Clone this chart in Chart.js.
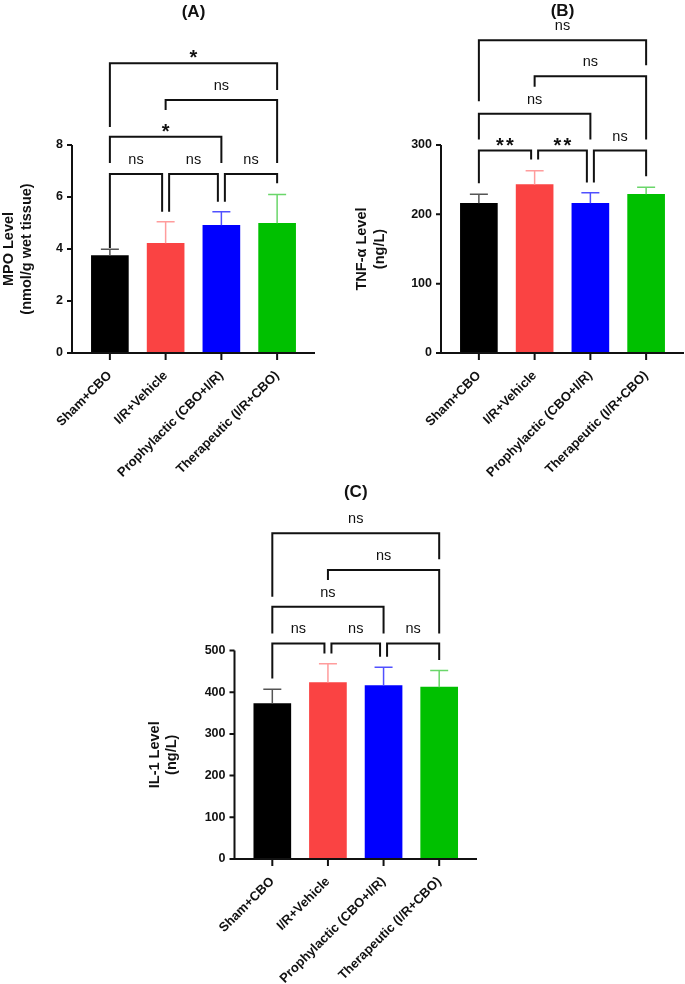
<!DOCTYPE html>
<html>
<head>
<meta charset="utf-8">
<script src="https://cdn.jsdelivr.net/npm/chart.js@4.4.1/dist/chart.umd.min.js"></script>
<style>
  html, body { margin: 0; padding: 0; background: #fff; }
  #wrap { position: relative; width: 685px; height: 984px; overflow: hidden; }
  canvas { position: absolute; }
</style>
</head>
<body>
<div id="wrap">
  <canvas id="cA" width="342" height="480" style="left:0;top:0;width:342px;height:480px"></canvas>
  <canvas id="cB" width="343" height="480" style="left:342px;top:0;width:343px;height:480px"></canvas>
  <canvas id="cC" width="685" height="504" style="left:0;top:480px;width:685px;height:504px"></canvas>
</div>
<script>
// ---- data ----
const groups = ['Sham+CBO', 'I/R+Vehicle', 'Prophylactic (CBO+I/R)', 'Therapeutic (I/R+CBO)'];

// (A) MPO, nmol/g wet tissue
const mpoMean = [3.75, 4.22, 4.91, 4.99];
const mpoSD   = [0.24, 0.83, 0.52, 1.11];
// (B) TNF-α, ng/L
const tnfMean = [216, 243, 216, 229];
const tnfSD   = [13, 20, 15, 10];
// (C) IL-1, ng/L
const il1Mean = [373, 423, 416, 412];
const il1SD   = [34, 45, 44, 40];

// comparisons and their significance labels
const pairs  = [[0, 1], [1, 2], [2, 3], [0, 2], [1, 3], [0, 3]];
const mpoSig = ['ns', 'ns', 'ns', '*', 'ns', '*'];
const tnfSig = ['**', '**', 'ns', 'ns', 'ns', 'ns'];
const il1Sig = ['ns', 'ns', 'ns', 'ns', 'ns', 'ns'];

// ---- look ----
const FONT = '"Liberation Sans", Arial, sans-serif';
const INK = '#111';
const barColors = ['#000000', '#fa4343', '#0000ff', '#00c000'];
const errColors = ['#555555', '#ff9c9c', '#5050ff', '#6ad66a'];

// bracket geometry in axis units: [bar level, left leg end, right leg end] (same order as pairs)
const mpoBrk = [[6.88, 4.04, 5.43], [6.88, 5.43, 5.82], [6.88, 5.82, 6.53],
                [8.32, 7.31, 7.31], [9.73, 9.35, 7.31], [11.14, 8.69, 10.12]];
const tnfBrk = [[292, 245, 279], [292, 279, 246], [292, 246, 255],
                [345, 308, 308], [399, 384, 308], [451, 363, 415]];
const il1Brk = [[517, 433, 493], [517, 493, 485], [517, 485, 477],
                [605, 541, 541], [693, 669, 541], [781, 629, 719]];

function decor(o) {
  return {
    id: 'decor',
    afterDraw(chart) {
      const { ctx, chartArea: a, scales: { x, y } } = chart;
      const ax = a.left - 10;
      const y0 = y.getPixelForValue(0), yTop = y.getPixelForValue(o.max);
      ctx.save();

      // error bars (upper SD only)
      ctx.lineWidth = 1.5;
      o.mean.forEach((m, i) => {
        const px = x.getPixelForValue(i), pm = y.getPixelForValue(m), ps = y.getPixelForValue(m + o.sd[i]);
        ctx.strokeStyle = errColors[i];
        ctx.beginPath();
        ctx.moveTo(px, pm); ctx.lineTo(px, ps);
        ctx.moveTo(px - 9, ps); ctx.lineTo(px + 9, ps);
        ctx.stroke();
      });

      // axes
      ctx.strokeStyle = INK; ctx.lineWidth = 2; ctx.lineCap = 'butt'; ctx.lineJoin = 'miter';
      ctx.beginPath();
      ctx.moveTo(ax, yTop); ctx.lineTo(ax, y0);
      ctx.moveTo(ax - 5, y0); ctx.lineTo(a.right + 10, y0);
      y.ticks.forEach(t => { const py = y.getPixelForValue(t.value); ctx.moveTo(ax - 5, py); ctx.lineTo(ax, py); });
      groups.forEach((g, i) => { const px = x.getPixelForValue(i); ctx.moveTo(px, y0); ctx.lineTo(px, y0 + 7); });
      ctx.stroke();

      // significance brackets
      ctx.fillStyle = INK; ctx.textAlign = 'center'; ctx.textBaseline = 'alphabetic';
      pairs.forEach(([i, j], k) => {
        const [lv, le, re] = o.brk[k];
        let xl = x.getPixelForValue(i), xr = x.getPixelForValue(j);
        if (j - i === 1) { if (i > 0) xl += 3.5; if (j < groups.length - 1) xr -= 3.5; }
        const yb = y.getPixelForValue(lv);
        ctx.beginPath();
        ctx.moveTo(xl, y.getPixelForValue(le)); ctx.lineTo(xl, yb);
        ctx.lineTo(xr, yb); ctx.lineTo(xr, y.getPixelForValue(re));
        ctx.stroke();
        const s = o.sig[k], cx = (xl + xr) / 2;
        if (s === 'ns') {
          ctx.font = '14.5px ' + FONT;
          ctx.fillText(s, cx, yb - 10);
        } else {
          ctx.font = 'bold 20px ' + FONT;
          for (let m = 0; m < s.length; m++) ctx.fillText('*', cx + (m - (s.length - 1) / 2) * 10, yb + 1);
        }
      });

      // panel letter
      ctx.font = 'bold 17px ' + FONT; ctx.textBaseline = 'middle';
      ctx.fillText(o.letter, (a.left + a.right) / 2, o.letterY);
      ctx.restore();
    }
  };
}

function panel(id, o) {
  const cv = document.getElementById(id);
  const W = cv.width, H = cv.height;
  return new Chart(cv, {
    type: 'bar',
    data: {
      labels: groups,
      datasets: [{ data: o.mean, backgroundColor: barColors, borderWidth: 0, barThickness: 37 }]
    },
    options: {
      responsive: false, animation: false, devicePixelRatio: 1,
      layout: { padding: { left: 0, top: o.area.top, right: W - o.area.right, bottom: 0 } },
      plugins: { legend: { display: false }, tooltip: { enabled: false } },
      scales: {
        x: {
          grid: { display: false, drawTicks: false }, border: { display: false },
          ticks: { minRotation: 45, maxRotation: 45, padding: 15, color: INK,
                   font: { family: FONT, size: 13, weight: 'bold' } },
          afterFit: s => { s.height = H - o.area.bottom; }
        },
        y: {
          min: 0, max: o.max,
          grid: { display: false, drawTicks: false }, border: { display: false },
          ticks: { stepSize: o.step, padding: 19, color: INK, font: { family: FONT, size: 12.5, weight: 'bold' } },
          title: { display: true, text: o.yTitle, color: INK, padding: { top: o.titlePad, bottom: 0 },
                   font: { family: FONT, size: 14.5, weight: 'bold' } },
          afterFit: s => { s.width = o.area.left; }
        }
      }
    },
    plugins: [decor(o)]
  });
}

panel('cA', { mean: mpoMean, sd: mpoSD, sig: mpoSig, brk: mpoBrk, max: 8, step: 2,
  yTitle: ['MPO Level', '(nmol/g wet tissue)'], titlePad: 0.5, letter: '(A)', letterY: 12,
  area: { left: 82, right: 305, top: 145, bottom: 353 } });

panel('cB', { mean: tnfMean, sd: tnfSD, sig: tnfSig, brk: tnfBrk, max: 300, step: 100,
  yTitle: ['TNF-α Level', '(ng/L)'], titlePad: 11.5, letter: '(B)', letterY: 11,
  area: { left: 109, right: 332, top: 145, bottom: 353 } });

panel('cC', { mean: il1Mean, sd: il1SD, sig: il1Sig, brk: il1Brk, max: 500, step: 100,
  yTitle: ['IL-1 Level', '(ng/L)'], titlePad: 146, letter: '(C)', letterY: 12,
  area: { left: 244.5, right: 467, top: 170.5, bottom: 379 } });
</script>
</body>
</html>
